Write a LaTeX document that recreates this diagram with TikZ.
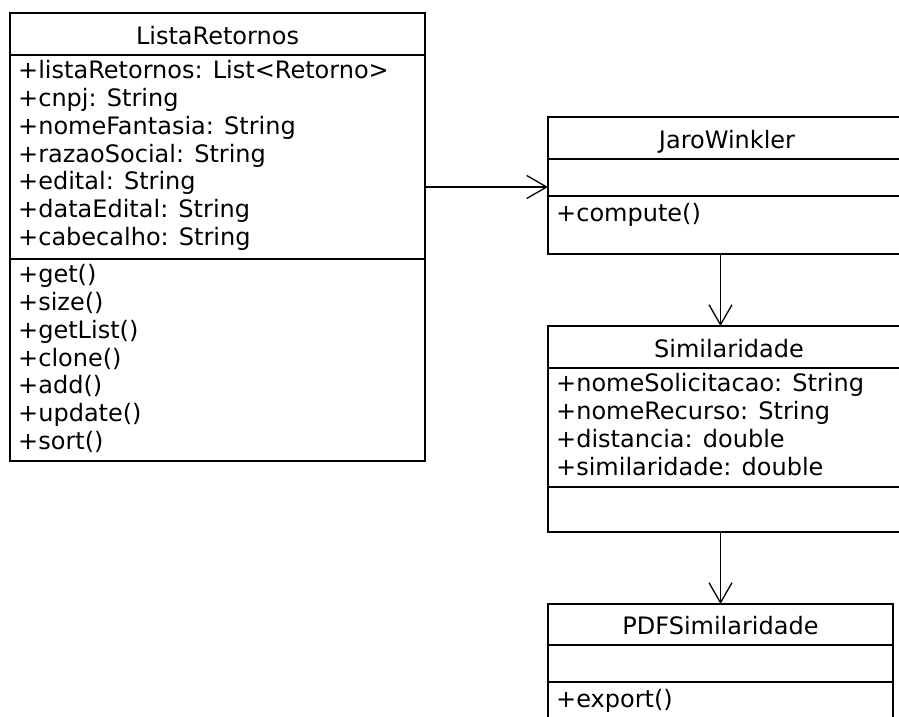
\documentclass[tikz,border=0pt]{standalone}
\usepackage{fontspec}
\setmainfont{DejaVu Sans}
\usetikzlibrary{arrows.meta}
\usetikzlibrary{positioning}
\tikzset{>={Straight Barb[length=20pt,width=23pt]}}
\tikzset{
  classbox/.style={draw,line width=1.3pt,rectangle,inner sep=0pt,outer sep=0pt,anchor=north west,
    font=\fontsize{24}{27.7}\selectfont,text height=20pt,text depth=0pt,minimum height=42pt},
  part/.style={draw,line width=1.3pt,rectangle,inner sep=0pt,outer sep=0pt},
  members/.style={inner sep=0pt,anchor=north west,align=left,
    font=\fontsize{24}{27.7}\selectfont,execute at begin node=\strut},
  assoc/.style={->,line width=1.3pt}
}

\begin{document}
\begin{tikzpicture}[x=1pt,y=-1pt]
\useasboundingbox (0,0) rectangle (899,716);
\clip (0,0) rectangle (899,716);

% ListaRetornos
\node[classbox,minimum width=415pt] (lista) at (10,13) {ListaRetornos};
\node[part,minimum width=415pt,minimum height=204pt,below=0pt of lista] (lista-attr) {};
\node[part,minimum width=415pt,minimum height=202pt,below=0pt of lista-attr] (lista-ops) {};
\node[members] (lista-attr-txt) at ([shift={(8pt,-5.5pt)}]lista-attr.north west)
  {+listaRetornos: List<Retorno>\\+cnpj: String\\+nomeFantasia: String\\+razaoSocial: String\\
   +edital: String\\+dataEdital: String\\+cabecalho: String};
\node[members] (lista-ops-txt) at ([shift={(8pt,-5.5pt)}]lista-ops.north west)
  {+get()\\+size()\\+getList()\\+clone()\\+add()\\+update()\\+sort()};

% JaroWinkler
\node[classbox,minimum width=358pt] (jaro) at (548,117) {JaroWinkler};
\node[part,minimum width=358pt,minimum height=37pt,below=0pt of jaro] (jaro-attr) {};
\node[part,minimum width=358pt,minimum height=58pt,below=0pt of jaro-attr] (jaro-ops) {};
\node[members] (jaro-ops-txt) at ([shift={(8pt,-5.5pt)}]jaro-ops.north west) {+compute()};

% Similaridade
\node[classbox,minimum width=362pt] (simil) at (548,326) {Similaridade};
\node[part,minimum width=362pt,minimum height=119pt,below=0pt of simil] (simil-attr) {};
\node[part,minimum width=362pt,minimum height=45pt,below=0pt of simil-attr] (simil-ops) {};
\node[members] (simil-attr-txt) at ([shift={(8pt,-5.5pt)}]simil-attr.north west)
  {+nomeSolicitacao: String\\+nomeRecurso: String\\+distancia: double\\+similaridade: double};

% PDFSimilaridade
\node[classbox,minimum width=345pt,minimum height=41pt] (pdf) at (548,604) {PDFSimilaridade};
\node[part,minimum width=345pt,minimum height=37pt,below=0pt of pdf] (pdf-attr) {};
\node[part,minimum width=345pt,minimum height=58pt,below=0pt of pdf-attr] (pdf-ops) {};
\node[members] (pdf-ops-txt) at ([shift={(8pt,-5.5pt)}]pdf-ops.north west) {+export()};

% associations
\coordinate (jaro-in) at ([yshift=9pt]jaro-attr.south west);
\draw[assoc] (lista-attr.east |- jaro-in) -- (jaro-in);
\draw[assoc] (jaro-ops.south -| pdf.north) -- (simil.north -| pdf.north);
\draw[assoc] (simil-ops.south -| pdf.north) -- (pdf.north);
\end{tikzpicture}
\end{document}
